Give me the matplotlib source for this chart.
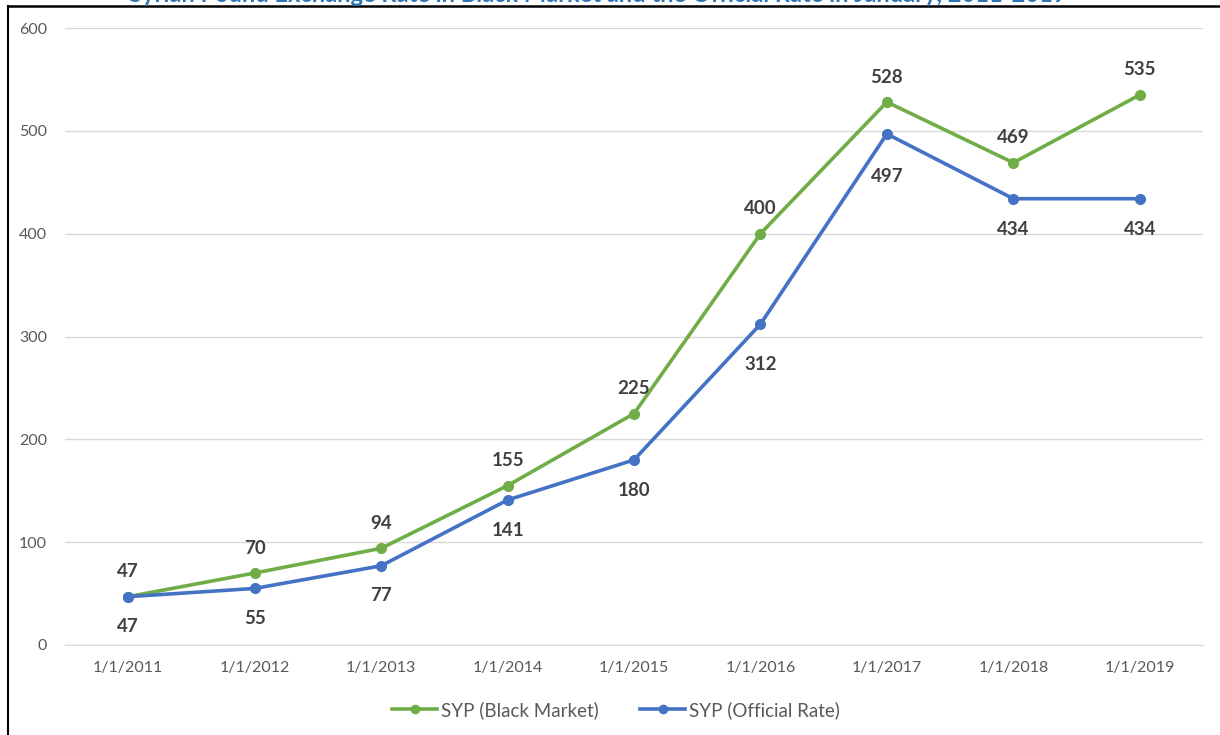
import matplotlib.pyplot as plt
from matplotlib.lines import Line2D

dates = ['1/1/2011', '1/1/2012', '1/1/2013', '1/1/2014', '1/1/2015',
         '1/1/2016', '1/1/2017', '1/1/2018', '1/1/2019']
black_market = [47, 70, 94, 155, 225, 400, 528, 469, 535]
official_rate = [47, 55, 77, 141, 180, 312, 497, 434, 434]
yticks = [0, 100, 200, 300, 400, 500, 600]

green = '#70AD47'
blue = '#4472C4'
label_col = '#404040'
tick_col = '#595959'

plt.rcParams['font.family'] = ['Lato', 'DejaVu Sans']

fig = plt.figure(figsize=(12.2, 7.35), dpi=100)
W, H = 1220, 735
ax = fig.add_axes([65 / W, 1 - 645 / H, (1203 - 65) / W, (645 - 28) / H])

x = list(range(len(dates)))
ax.plot(x, black_market, color=green, lw=2.6, marker='o', ms=7,
        label='SYP (Black Market)', zorder=3)
ax.plot(x, official_rate, color=blue, lw=2.6, marker='o', ms=7,
        label='SYP (Official Rate)', zorder=3)

# data labels: green above, blue below
below_off = [30, 30, 30, 30, 31, 40, 43, 31, 31]
for i in x:
    ax.annotate(str(black_market[i]), (i, black_market[i]), xytext=(0, 25),
                textcoords='offset pixels', ha='center', va='center',
                fontsize=13.5, fontweight='bold', color=label_col)
    ax.annotate(str(official_rate[i]), (i, official_rate[i]),
                xytext=(0, -below_off[i]), textcoords='offset pixels',
                ha='center', va='center',
                fontsize=13.5, fontweight='bold', color=label_col)

ax.set_xlim(-0.5, 8.5)
ax.set_ylim(0, 600)
ax.set_yticks(yticks)
ax.set_xticks(x)
ax.set_xticklabels(dates)
ax.tick_params(axis='both', length=0, colors=tick_col, labelsize=11.5)
ax.tick_params(axis='x', pad=11.5)
ax.tick_params(axis='y', pad=13)
ax.grid(axis='y', color='#D9D9D9', lw=1)
ax.set_axisbelow(True)
for s in ['top', 'right', 'left']:
    ax.spines[s].set_visible(False)
ax.spines['bottom'].set_color('#D9D9D9')

ax.legend(loc='center', bbox_to_anchor=(0.505, 1 - 710 / H), bbox_transform=fig.transFigure,
          ncol=2, frameon=False, fontsize=13.5, labelcolor=tick_col,
          handlelength=2.4, handletextpad=0.2, columnspacing=2.2, markerscale=0.85)

# clipped title from above the crop
fig.text(0.49, 1 - 2 / H, 'Syrian Pound Exchange Rate in Black Market and the Official Rate in January, 2011-2019',
         ha='center', va='baseline', fontsize=17, fontweight='bold', color='#2E75B6')

# frame lines
fig.add_artist(Line2D([8 / W, 1], [1 - 6 / H, 1 - 6 / H], color='black', lw=1.8,
                      transform=fig.transFigure))
fig.add_artist(Line2D([8 / W, 8 / W], [0, 1 - 6 / H], color='black', lw=1.5,
                      transform=fig.transFigure))

fig.savefig('out.png', dpi=100)
